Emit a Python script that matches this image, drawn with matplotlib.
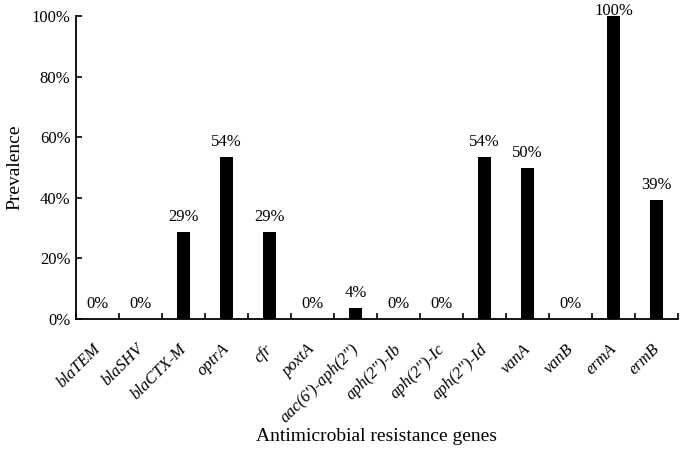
import matplotlib.pyplot as plt
import matplotlib.transforms as mtransforms
import numpy as np
from matplotlib.ticker import PercentFormatter

genes = ["blaTEM", "blaSHV", "blaCTX-M", "optrA", "cfr", "poxtA",
         "aac(6')-aph(2'')", "aph(2'')-Ib", "aph(2'')-Ic", "aph(2'')-Id",
         "vanA", "vanB", "ermA", "ermB"]
prevalence = [0, 0, 28.6, 53.6, 28.6, 0, 3.6, 0, 0, 53.6, 50.0, 0, 100.0, 39.3]
bar_labels = ["0%", "0%", "29%", "54%", "29%", "0%", "4%", "0%", "0%",
              "54%", "50%", "0%", "100%", "39%"]

plt.rcParams["font.family"] = ["Liberation Serif", "DejaVu Serif"]

fig = plt.figure(figsize=(6.85, 4.49), dpi=100)
ax = fig.add_axes([76 / 685, 1 - 319 / 449, 602 / 685, 303 / 449])

x = np.arange(len(genes))
ax.bar(x, prevalence, width=0.3, color="black")

# labels above bars; the full bar gets its label squeezed onto the top edge
for xi, v, lab in zip(x, prevalence, bar_labels):
    dy = 5 if v < 95 else -2.5
    ax.annotate(lab, (xi, v), xytext=(0, dy), textcoords="offset points",
                ha="center", va="bottom", fontsize=12, clip_on=False)

ax.set_xlim(-0.5, len(genes) - 0.5)
ax.set_ylim(0, 100)
ax.set_yticks(np.arange(0, 101, 20))
ax.yaxis.set_major_formatter(PercentFormatter(decimals=0))
ax.tick_params(axis="y", direction="in", length=4, width=1.2, labelsize=12, pad=4)

ax.set_xticks(x)
ax.set_xticklabels(genes, rotation=45, ha="right", rotation_mode="anchor",
                   fontsize=12, fontstyle="italic")
ax.tick_params(axis="x", which="major", length=0, pad=16)
ax.set_xticks(np.arange(-0.5, len(genes)), minor=True)
ax.tick_params(axis="x", which="minor", direction="in", length=4, width=1.2)

offset = mtransforms.ScaledTranslation(-5 / 100, 0, fig.dpi_scale_trans)
for lbl in ax.get_xticklabels():
    lbl.set_transform(lbl.get_transform() + offset)

for side in ("top", "right"):
    ax.spines[side].set_visible(False)
for side in ("left", "bottom"):
    ax.spines[side].set_linewidth(1.3)

ax.set_ylabel("Prevalence", fontsize=14, labelpad=6)
ax.set_xlabel("Antimicrobial resistance genes", fontsize=14)
ax.xaxis.set_label_coords(0.5, -0.36)

fig.savefig("out.png", dpi=100)
